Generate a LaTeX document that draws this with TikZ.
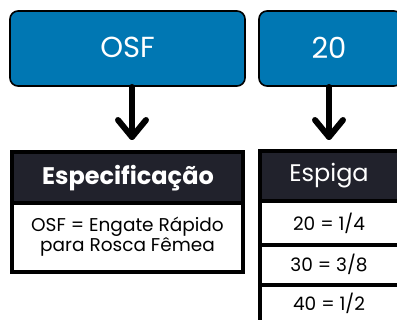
\documentclass[tikz,border=0pt]{standalone}
\usepackage{fontspec}
\setmainfont{Poppins}
\definecolor{boxblue}{HTML}{0077B3}
\definecolor{hdark}{HTML}{21222C}
\begin{document}
\begin{tikzpicture}[x=1pt,y=1pt,
  topbox/.style={draw=black,line width=1.6pt,fill=boxblue,rounded corners=8pt},
  hdr/.style={draw=black,line width=3.5pt,fill=hdark},
  cell/.style={draw=black,line width=3.5pt,fill=white},
  arr/.style={line width=6pt,line cap=round,line join=round},
  lbl/.style={inner sep=0pt,font=\fontsize{18.5}{20.5}\selectfont,align=center}]
\useasboundingbox (0,0) rectangle (397,-320);
\begin{scope}
\clip (0,0) rectangle (397,-320);
% top boxes
\draw[topbox] (10,-11) rectangle (245,-86);
\node[inner sep=0pt,text=white,font=\fontsize{29}{32}\selectfont] (osf) at (127.5,-47.5) {OSF};
\draw[topbox] (259,-11) rectangle (402,-86);
\node[inner sep=0pt,text=white,font=\fontsize{29}{32}\selectfont] (twenty) at (329,-47.5) {20};
% arrows
\coordinate (a1s) at (132,-87);
\coordinate (a1e) at (132,-137);
\draw[arr] (a1s) -- (a1e);
\draw[arr] (118,-120) -- (a1e) -- (146,-120);
\coordinate (a2s) at (329,-87);
\coordinate (a2e) at (329,-137);
\draw[arr] (a2s) -- (a2e);
\draw[arr] (315,-120) -- (a2e) -- (343,-120);
% Especificacao table
\draw[hdr] (12,-152) rectangle (243,-203);
\draw[cell] (12,-203) rectangle (243,-272);
\node[inner sep=0pt,text=white,font=\bfseries\fontsize{24}{28}\selectfont] (esp) at (128,-178.5) {Especificação};
\node[lbl] (espd) at (127.5,-236.5) {OSF = Engate Rápido\\para Rosca Fêmea};
% Espiga table
\draw[hdr] (260,-151) rectangle (402,-201);
\draw[cell] (260,-201) rectangle (402,-245);
\draw[cell] (260,-245) rectangle (402,-285);
\draw[cell] (260,-285) rectangle (402,-330);
\node[inner sep=0pt,text=white,font=\fontsize{24}{28}\selectfont] (espiga) at (329,-176) {Espiga};
\node[lbl] (r1) at (329,-223) {20 = 1/4};
\node[lbl] (r2) at (329,-264) {30 = 3/8};
\node[lbl] (r3) at (329,-303) {40 = 1/2};
\end{scope}
\end{tikzpicture}
\end{document}
